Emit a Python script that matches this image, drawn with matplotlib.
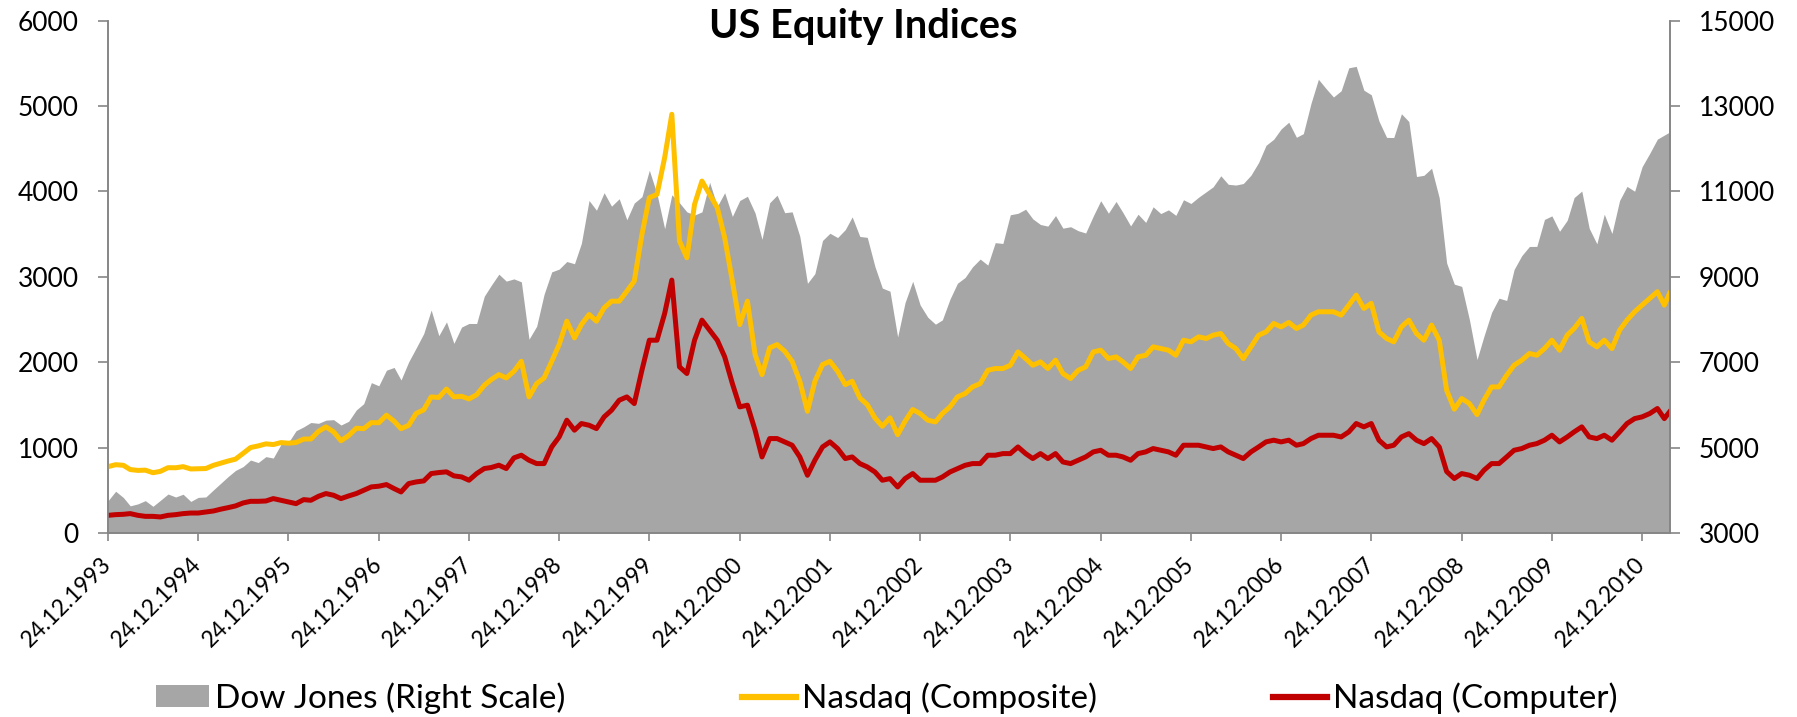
import matplotlib
matplotlib.use("Agg")
import matplotlib.pyplot as plt
from matplotlib.patches import Patch
from matplotlib.lines import Line2D
import pandas as pd

plt.rcParams["font.family"] = ["Lato", "DejaVu Sans"]

# one sample per month (the 24th), Dec 1993 .. Mar 2011, plus the last print mid April 2011
dates = list(pd.date_range("1993-12-01", "2011-03-01", freq="MS") + pd.Timedelta(days=23))
dates.append(pd.Timestamp("2011-04-14"))

# Dow Jones Industrial Average (right scale)
dow = [
    3754,
    3978, 3832, 3636, 3682, 3758, 3625, 3765, 3913, 3843, 3908, 3739, 3834,          # 1994
    3844, 4011, 4158, 4321, 4465, 4556, 4709, 4650, 4789, 4756, 5075, 5117,          # 1995
    5395, 5486, 5588, 5569, 5643, 5655, 5529, 5616, 5882, 6029, 6522, 6448,          # 1996
    6813, 6878, 6584, 7009, 7331, 7673, 8223, 7622, 7945, 7442, 7823, 7908,          # 1997
    7907, 8546, 8800, 9063, 8900, 8952, 8883, 7539, 7843, 8592, 9117, 9181,          # 1998
    9359, 9307, 9786, 10789, 10560, 10971, 10655, 10829, 10337, 10729, 10878, 11497,  # 1999
    10941, 10128, 10922, 10734, 10522, 10448, 10522, 11215, 10651, 10971, 10415, 10788,  # 2000
    10887, 10495, 9879, 10735, 10912, 10502, 10523, 9950, 8848, 9075, 9852, 10021,   # 2001
    9920, 10106, 10404, 9946, 9925, 9243, 8737, 8664, 7592, 8397, 8896, 8342,        # 2002
    8054, 7891, 7992, 8480, 8850, 8985, 9234, 9416, 9275, 9801, 9782, 10454,         # 2003
    10488, 10584, 10358, 10226, 10188, 10435, 10140, 10174, 10080, 10027, 10428, 10783,  # 2004
    10490, 10766, 10504, 10193, 10467, 10275, 10641, 10482, 10569, 10440, 10806, 10718,  # 2005
    10865, 10993, 11109, 11367, 11168, 11150, 11186, 11381, 11679, 12081, 12222, 12463,  # 2006
    12622, 12269, 12354, 13063, 13628, 13409, 13212, 13358, 13896, 13930, 13372, 13265,  # 2007
    12650, 12266, 12263, 12820, 12638, 11350, 11378, 11544, 10851, 9325, 8829, 8776,     # 2008
    8001, 7063, 7609, 8168, 8500, 8447, 9172, 9496, 9712, 9713, 10345, 10428,        # 2009
    10067, 10325, 10857, 11009, 10137, 9774, 10466, 10015, 10788, 11118, 11006, 11578,   # 2010
    11892, 12226, 12320, 12390,                                                      # 2011
]

# Nasdaq Composite (left scale)
nasdaq_comp = [
    777,
    800, 793, 743, 733, 736, 706, 722, 765, 764, 777, 750, 752,
    755, 793, 817, 843, 865, 933, 1001, 1020, 1044, 1036, 1059, 1052,
    1060, 1100, 1101, 1191, 1243, 1185, 1081, 1141, 1227, 1222, 1293, 1291,
    1380, 1309, 1222, 1261, 1400, 1443, 1594, 1587, 1686, 1594, 1601, 1570,
    1619, 1730, 1797, 1855, 1816, 1894, 2011, 1594, 1750, 1816, 2011, 2207,
    2481, 2285, 2441, 2559, 2481, 2637, 2715, 2715, 2832, 2950, 3497, 3927,
    3966, 4396, 4904, 3419, 3224, 3849, 4122, 3966, 3810, 3458, 2950, 2441,
    2715, 2090, 1855, 2168, 2207, 2129, 2011, 1777, 1426, 1777, 1972, 2011,
    1894, 1738, 1777, 1582, 1504, 1348, 1250, 1348, 1152, 1309, 1446, 1399,
    1321, 1301, 1399, 1477, 1594, 1633, 1711, 1750, 1906, 1926, 1926, 1965,
    2121, 2043, 1965, 2004, 1926, 2024, 1867, 1809, 1906, 1945, 2121, 2141,
    2043, 2063, 2004, 1926, 2063, 2082, 2180, 2160, 2141, 2082, 2258, 2239,
    2297, 2278, 2317, 2336, 2219, 2160, 2043, 2180, 2317, 2356, 2454, 2414,
    2466, 2395, 2435, 2552, 2591, 2591, 2591, 2552, 2669, 2786, 2630, 2689,
    2356, 2278, 2239, 2414, 2493, 2336, 2258, 2435, 2258, 1672, 1450, 1575,
    1516, 1387, 1555, 1711, 1711, 1848, 1965, 2024, 2102, 2082, 2160, 2258,
    2141, 2317, 2395, 2513, 2239, 2180, 2258, 2160, 2375, 2493, 2591, 2669,
    2747, 2826, 2669, 2806,
]

# Nasdaq Computer index (left scale)
nasdaq_comp_ix = [
    207,
    215, 219, 227, 207, 195, 195, 188, 207, 215, 227, 234, 234,
    246, 258, 278, 297, 317, 352, 371, 371, 375, 403, 383, 364,
    344, 391, 383, 430, 462, 442, 403, 434, 462, 501, 540, 548,
    567, 520, 481, 579, 598, 610, 696, 708, 716, 669, 657, 618,
    696, 755, 767, 794, 755, 880, 911, 852, 813, 813, 1008, 1125,
    1321, 1204, 1282, 1262, 1223, 1360, 1438, 1555, 1594, 1516, 1907, 2258,
    2258, 2571, 2962, 1946, 1868, 2258, 2493, 2376, 2258, 2063, 1751, 1477,
    1497, 1204, 891, 1106, 1106, 1067, 1028, 891, 676, 852, 1008, 1067,
    989, 872, 891, 813, 774, 715, 618, 637, 539, 637, 696, 618,
    618, 618, 656, 715, 754, 793, 813, 813, 911, 911, 930, 930,
    1008, 930, 872, 930, 872, 930, 832, 813, 852, 891, 950, 969,
    911, 911, 891, 852, 930, 950, 989, 969, 950, 911, 1028, 1028,
    1028, 1008, 989, 1008, 950, 911, 872, 950, 1008, 1067, 1087, 1067,
    1087, 1028, 1047, 1106, 1145, 1145, 1145, 1125, 1184, 1282, 1243, 1282,
    1087, 1008, 1028, 1125, 1164, 1087, 1047, 1106, 1008, 720, 638, 696,
    677, 638, 735, 813, 813, 891, 969, 989, 1028, 1047, 1087, 1145,
    1067, 1125, 1184, 1243, 1125, 1106, 1145, 1087, 1184, 1282, 1340, 1360,
    1399, 1458, 1340, 1418,
]

tick_dates = [pd.Timestamp(f"{y}-12-24") for y in range(1993, 2011)]

GRAY = "#A6A6A6"
AXIS = "#868686"

fig = plt.figure(figsize=(17.97, 7.17), dpi=100)
ax_dj = fig.add_axes([108 / 1797, 1 - 533 / 717, 1561.5 / 1797, 512.3 / 717])
ax = ax_dj.twinx()
# Dow area sits in the primary axes (drawn first), its scale shown on the right
ax_dj.yaxis.tick_right()
ax.yaxis.tick_left()

ax_dj.fill_between(dates, dow, 3000, color=GRAY, lw=0)
ax.plot(dates, nasdaq_comp, color="#FFC000", lw=3.6, solid_joinstyle="round")
ax.plot(dates, nasdaq_comp_ix, color="#C00000", lw=3.6, solid_joinstyle="round")

ax_dj.set_ylim(3000, 15000)
ax_dj.set_yticks(range(3000, 15001, 2000))
ax.set_ylim(0, 6000)
ax.set_yticks(range(0, 6001, 1000))
ax_dj.set_xlim(dates[0], dates[-1])
ax_dj.set_xticks(tick_dates)
ax_dj.set_xticklabels([d.strftime("%d.%m.%Y") for d in tick_dates])

for a in (ax_dj, ax):
    a.spines["top"].set_visible(False)
    for s in ("left", "right", "bottom"):
        a.spines[s].set_color(AXIS)
        a.spines[s].set_linewidth(1.2)
    a.tick_params(axis="y", length=7, width=1.2, color=AXIS, labelsize=19, pad=14)
ax_dj.tick_params(axis="x", length=6, width=1.2, color=AXIS, labelsize=16.5, pad=14)
for lbl in ax_dj.get_xticklabels():
    lbl.set_rotation(45)
    lbl.set_ha("right")
    lbl.set_va("center")
    lbl.set_rotation_mode("anchor")

fig.text(863 / 1797, 1 - 38 / 717, "US Equity Indices", ha="center", va="baseline",
         fontsize=28.5, fontweight="bold")

handles = [
    Patch(facecolor=GRAY, edgecolor="none"),
    Line2D([], [], color="#FFC000", lw=4.5),
    Line2D([], [], color="#C00000", lw=4.5),
]
labels = ["Dow Jones (Right Scale)", "Nasdaq (Composite)", "Nasdaq (Computer)"]
fig.legend(handles, labels, loc="center left", bbox_to_anchor=(156 / 1797, 1 - 698 / 717),
           ncol=3, frameon=False, fontsize=24, handlelength=1.6, handleheight=0.6,
           handletextpad=0.18, columnspacing=5.3, borderpad=0, borderaxespad=0)

fig.savefig("out.png", dpi=100)
